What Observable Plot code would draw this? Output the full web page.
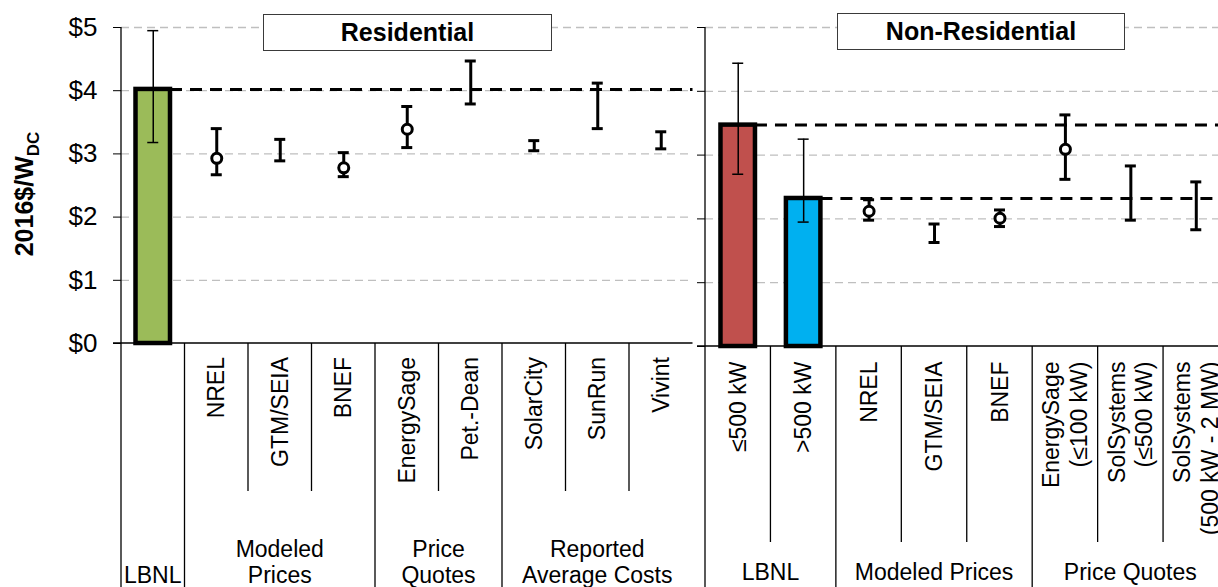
<!DOCTYPE html>
<html>
<head>
<meta charset="utf-8">
<script src="https://cdn.jsdelivr.net/npm/d3@7"></script>
<script src="https://cdn.jsdelivr.net/npm/@observablehq/plot@0.6"></script>
<style>
  html, body { margin: 0; padding: 0; background: #fff; overflow: hidden; }
  #chart { position: relative; width: 1218px; height: 587px; overflow: hidden; background: #fff;
           font-family: "Liberation Sans", Arial, Helvetica, sans-serif; }
  #chart svg { position: absolute; left: 0; top: 0; max-width: none !important; background: none !important; overflow: visible; }
  .hdr { position: absolute; box-sizing: border-box; border: 1.5px solid #3a3a3a; background: #fff;
         font-weight: bold; font-size: 25px; text-align: center; color: #000; }
</style>
</head>
<body>
<div id="chart"></div>
<script>
// ---------------- Data ----------------
const yTickValues = [0, 1, 2, 3, 4, 5];
const gridValues = [1, 2, 3, 4, 5];
const yTitleMain = "2016$/W";
const yTitleSub = "DC";

// Residential panel
const resTitle = "Residential";
const resCategories = ["LBNL", "NREL", "GTM/SEIA", "BNEF", "EnergySage", "Pet.-Dean", "SolarCity", "SunRun", "Vivint"];
const resTickLabels = ["", "NREL", "GTM/SEIA", "BNEF", "EnergySage", "Pet.-Dean", "SolarCity", "SunRun", "Vivint"];
const resGroupLabels = ["LBNL", "Modeled\nPrices", "Price\nQuotes", "Reported\nAverage Costs"];
const resGroupSizes = [1, 3, 2, 3];
const resBarCategories = ["LBNL"];
const resBarValues = [4.02];
const resBarColors = ["#9BBB59"];
const resLow  = [3.18, 2.67, 2.89, 2.64, 3.10, 3.79, 3.05, 3.40, 3.08];
const resHigh = [4.95, 3.40, 3.23, 3.02, 3.75, 4.47, 3.21, 4.12, 3.35];
const resMid  = [null, 2.93, null, 2.78, 3.39, null, null, null, null];

// Non-residential panel
const nonTitle = "Non-Residential";
const nonCategories = ["≤500 kW", ">500 kW", "NREL", "GTM/SEIA", "BNEF", "EnergySage (≤100 kW)", "SolSystems (≤500 kW)", "SolSystems (500 kW - 2 MW)"];
const nonTickLabels = ["≤500 kW", ">500 kW", "NREL", "GTM/SEIA", "BNEF", "EnergySage\n(≤100 kW)", "SolSystems\n(≤500 kW)", "SolSystems\n(500 kW - 2 MW)"];
const nonGroupLabels = ["LBNL", "Modeled Prices", "Price Quotes"];
const nonGroupSizes = [2, 3, 3];
const nonBarCategories = ["≤500 kW", ">500 kW"];
const nonBarValues = [3.47, 2.32];
const nonBarColors = ["#C0504D", "#00B0F0"];
const nonLow  = [2.70, 1.95, 1.98, 1.63, 1.88, 2.62, 1.98, 1.83];
const nonHigh = [4.44, 3.25, 2.30, 1.92, 2.14, 3.63, 2.83, 2.58];
const nonMid  = [null, null, 2.12, null, 2.01, 3.09, null, null];

// ---------------- Drawing ----------------
const FONT = '"Liberation Sans", Arial, Helvetica, sans-serif';

// Hierarchical category axis below the plot: separators, rotated labels, group labels
function bottomAxis(categories, tickLabels, groupLabels, groupSizes, opts) {
  return function (index, scales, values, dims) {
    const x = scales.x, y = scales.y;
    const {width, height, marginLeft, marginRight, marginTop} = dims;
    const bw = x.bandwidth ? x.bandwidth() : (width - marginLeft - marginRight) / categories.length;
    const y0 = y(0);
    const g = d3.create("svg:g").attr("stroke", "#000").attr("fill", "#000");
    g.append("line").attr("x1", marginLeft - 8).attr("x2", width - marginRight)
      .attr("y1", y0).attr("y2", y0).attr("stroke-width", 1.3);
    // rotated category labels
    categories.forEach((c, i) => {
      const label = tickLabels[i];
      if (!label) return;
      const lines = label.split("\n");
      const n = lines.length;
      const cx = x(c) + bw / 2;
      const t = g.append("text")
        .attr("transform", `translate(${cx},${y0 + opts.labelDy}) rotate(-90)`)
        .attr("text-anchor", "end").attr("stroke", "none")
        .attr("font-size", 23).attr("font-family", FONT);
      lines.forEach((ln, j) => {
        t.append("tspan").attr("x", 0)
          .attr("y", `${((j - (n - 1) / 2) * 1.2 + 0.35).toFixed(3)}em`).text(ln);
      });
    });
    let start = 0;
    groupSizes.forEach((size, gi) => {
      for (let k = 0; k < size; k++) {
        const i = start + k;
        const xp = x(categories[i]);
        const top = i === 0 ? marginTop : y0;
        const end = k === 0 ? height : opts.shortEnd;
        g.append("line").attr("x1", xp).attr("x2", xp).attr("y1", top).attr("y2", end)
          .attr("stroke-width", 1.3);
      }
      const cx = x(categories[start]) + size * bw / 2;
      const lines = groupLabels[gi].split("\n");
      lines.forEach((ln, j) => {
        g.append("text").attr("x", cx).attr("y", opts.lastBaseline - (lines.length - 1 - j) * 26.5)
          .attr("text-anchor", "middle").attr("stroke", "none").attr("font-size", 23)
          .attr("font-family", FONT).text(ln);
      });
      start += size;
    });
    return g.node();
  };
}

function makePanel(cfg) {
  const n = cfg.categories.length;
  const bw = (cfg.width - cfg.marginLeft - cfg.marginRight) / n;
  const rows = cfg.categories.map((c, i) => ({
    cat: c, low: cfg.low[i], high: cfg.high[i], mid: cfg.mid[i],
    thin: cfg.barCategories.includes(c)
  }));
  const bars = cfg.barCategories.map((c, i) => ({cat: c, value: cfg.barValues[i], color: cfg.barColors[i]}));
  const last = cfg.categories[n - 1];
  const barInset = (bw - 34.5) / 2;
  const thinRows = rows.filter(d => d.thin);
  const thickRows = rows.filter(d => !d.thin);
  const cap = (bw - 11) / 2;

  return Plot.plot({
    width: cfg.width,
    height: 587,
    marginLeft: cfg.marginLeft,
    marginRight: cfg.marginRight,
    marginTop: cfg.marginTop,
    marginBottom: cfg.marginBottom,
    style: {fontFamily: FONT, fontSize: "26px", background: "none", color: "#000", overflow: "visible"},
    x: {type: "band", domain: cfg.categories, padding: 0, round: false, axis: null},
    y: {domain: [0, 5], ticks: yTickValues, tickSize: 8, tickPadding: 16,
        tickFormat: cfg.showTickLabels ? (d => "$" + d) : (() => ""), label: null},
    color: {type: "identity"},
    marks: [
      Plot.ruleY(gridValues, {stroke: "#BFBFBF", strokeWidth: 1.3, strokeDasharray: "8,5"}),
      Plot.barY(bars, {x: "cat", y: "value", fill: "color", stroke: "#000", strokeWidth: 4.5,
                       insetLeft: barInset, insetRight: barInset}),
      Plot.ruleY(bars, {y: "value", x1: "cat", x2: () => last, stroke: "#000", strokeWidth: 3,
                        strokeDasharray: "12,8", insetLeft: bw - barInset}),
      // thin error bars (LBNL bars)
      Plot.ruleX(thinRows, {x: "cat", y1: "low", y2: "high", stroke: "#000", strokeWidth: 1.5}),
      Plot.tickY(thinRows, {x: "cat", y: "low", stroke: "#000", strokeWidth: 1.5, insetLeft: cap, insetRight: cap}),
      Plot.tickY(thinRows, {x: "cat", y: "high", stroke: "#000", strokeWidth: 1.5, insetLeft: cap, insetRight: cap}),
      // thick error bars
      Plot.ruleX(thickRows, {x: "cat", y1: "low", y2: "high", stroke: "#000", strokeWidth: 3}),
      Plot.tickY(thickRows, {x: "cat", y: "low", stroke: "#000", strokeWidth: 3, insetLeft: cap, insetRight: cap}),
      Plot.tickY(thickRows, {x: "cat", y: "high", stroke: "#000", strokeWidth: 3, insetLeft: cap, insetRight: cap}),
      Plot.dot(rows.filter(d => d.mid != null), {x: "cat", y: "mid", r: 5, fill: "#fff", stroke: "#000", strokeWidth: 3}),
      bottomAxis(cfg.categories, cfg.tickLabels, cfg.groupLabels, cfg.groupSizes,
                 {labelDy: cfg.labelDy, shortEnd: cfg.shortEnd, lastBaseline: cfg.lastBaseline})
    ]
  });
}

const chart = document.getElementById("chart");

const left = makePanel({
  categories: resCategories, tickLabels: resTickLabels, groupLabels: resGroupLabels, groupSizes: resGroupSizes,
  barCategories: resBarCategories, barValues: resBarValues, barColors: resBarColors,
  low: resLow, high: resHigh, mid: resMid,
  width: 700, marginLeft: 121, marginRight: 7.5, marginTop: 27, marginBottom: 244,
  showTickLabels: true, labelDy: 14, shortEnd: 491, lastBaseline: 583
});
chart.appendChild(left);

// y-axis title with subscript
const t = d3.select(left).append("text")
  .attr("transform", "translate(33,194) rotate(-90)")
  .attr("text-anchor", "middle").attr("font-family", FONT).attr("font-weight", "bold")
  .attr("font-size", 25).attr("fill", "#000");
t.append("tspan").text(yTitleMain);
t.append("tspan").attr("font-size", 17).attr("dy", "0.35em").text(yTitleSub);

const right = makePanel({
  categories: nonCategories, tickLabels: nonTickLabels, groupLabels: nonGroupLabels, groupSizes: nonGroupSizes,
  barCategories: nonBarCategories, barValues: nonBarValues, barColors: nonBarColors,
  low: nonLow, high: nonHigh, mid: nonMid,
  width: 1240, marginLeft: 705, marginRight: 11.5, marginTop: 27, marginBottom: 241,
  showTickLabels: false, labelDy: 15.5, shortEnd: 542, lastBaseline: 580
});
chart.appendChild(right);

// panel headers
function header(text, l, tp, w, h) {
  const d = document.createElement("div");
  d.className = "hdr";
  d.style.left = l + "px"; d.style.top = tp + "px";
  d.style.width = w + "px"; d.style.height = h + "px";
  d.style.lineHeight = (h - 3) + "px";
  d.textContent = text;
  chart.appendChild(d);
}
header(resTitle, 263, 14, 289, 37);
header(nonTitle, 837, 13, 288, 37);
</script>
</body>
</html>
